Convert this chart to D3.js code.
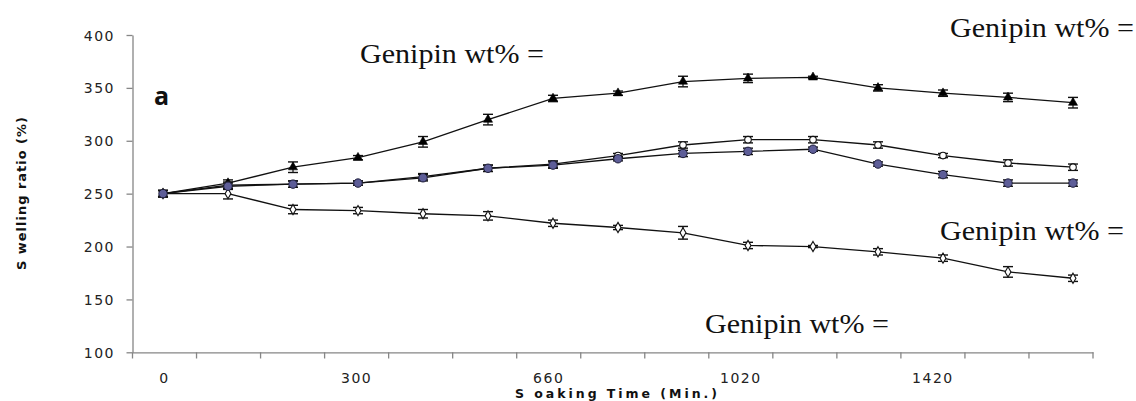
<!DOCTYPE html>
<html>
<head>
<meta charset="utf-8">
<script src="https://cdn.jsdelivr.net/npm/d3@7"></script>
<style>
  html, body { margin: 0; padding: 0; background: #fff; }
  svg { display: block; }
</style>
</head>
<body>
<svg id="chart" width="1136" height="401"></svg>
<script>
// Soaking time categories (min.) – only every third is labelled on the axis
const times = [0, 100, 200, 300, 420, 540, 660, 780, 900, 1020, 1140, 1260, 1420, 1540, 1660];
const tickLabels = ["0", "", "", "300", "", "", "660", "", "", "1020", "", "", "1420", "", ""];
const yTicks = [100, 150, 200, 250, 300, 350, 400];

// Swelling ratio (%) for each series
const triangleVals = [250, 260, 275, 284, 299, 320, 340, 345, 356, 359, 360, 350, 345, 341, 336];
const triangleErr  = [3, 3, 5, 2, 5, 5, 3, 2, 5, 4, 1, 3, 3, 4, 5];
const openCircleVals = [250, 258, 259, 260, 266, 274, 278, 286, 296, 301, 301, 296, 286, 279, 275];
const openCircleErr  = [3, 3, 3, 2, 3, 3, 3, 2, 3, 3, 3, 3, 2, 3, 3];
const filledCircleVals = [250, 257, 259, 260, 265, 274, 277, 283, 288, 290, 292, 278, 268, 260, 260];
const filledCircleErr  = [3, 3, 3, 2, 3, 3, 3, 2, 3, 3, 2, 2, 3, 3, 3];
const lowerVals = [250, 250, 235, 234, 231, 229, 222, 218, 213, 201, 200, 195, 189, 176, 170];
const lowerErr  = [3, 5, 4, 3, 4, 4, 3, 2, 6, 3, 1, 3, 3, 5, 3];

const legendTexts = ["Genipin wt% =", "Genipin wt% =", "Genipin wt% =", "Genipin wt% ="];

const svg = d3.select("#chart");

const y = d3.scaleLinear().domain([100, 400]).range([352.3, 35]);
const xBand = d3.scaleBand().domain(times).range([132.5, 1093]);
const xPt = d3.scalePoint().domain(times).range([163, 1073]);

const axisColor = "#868686";

// Y axis
const yAxis = svg.append("g").attr("transform", "translate(132.5,0)")
  .call(d3.axisLeft(y).tickValues(yTicks).tickSize(6).tickPadding(11.5).tickSizeOuter(0));
yAxis.select(".domain").attr("stroke", axisColor).attr("stroke-width", 1.3);
yAxis.selectAll(".tick line").attr("stroke", axisColor).attr("stroke-width", 1.3);
yAxis.selectAll(".tick text")
  .attr("fill", "#222").attr("font-family", "DejaVu Sans").attr("font-size", 14)
  .attr("letter-spacing", "1.5px").attr("dy", "0.36em");

// X axis
const xAxis = svg.append("g").attr("transform", "translate(0,352.3)")
  .call(d3.axisBottom(xBand).tickSize(0).tickPadding(20.5).tickFormat((d, i) => tickLabels[i]));
xAxis.select(".domain").attr("stroke", axisColor).attr("stroke-width", 1.3);
xAxis.selectAll(".tick text")
  .attr("fill", "#222").attr("font-family", "DejaVu Sans").attr("font-size", 14)
  .attr("letter-spacing", "1.5px");
// category boundary tick marks
const bounds = times.map(t => xBand(t)).concat([xBand(times[times.length - 1]) + xBand.bandwidth()]);
svg.append("g").selectAll("line").data(bounds).join("line")
  .attr("x1", d => d).attr("x2", d => d)
  .attr("y1", 352.3).attr("y2", 358.5)
  .attr("stroke", axisColor).attr("stroke-width", 1.3);

// Axis titles
svg.append("text")
  .attr("x", 515).attr("y", 397.5)
  .attr("font-family", "DejaVu Sans").attr("font-weight", "bold").attr("font-size", 12.5)
  .attr("fill", "#111")
  .attr("textLength", 202).attr("lengthAdjust", "spacing")
  .text("S oaking Time (Min.)");

svg.append("text")
  .attr("transform", "translate(26,270) rotate(-90)")
  .attr("font-family", "DejaVu Sans").attr("font-weight", "bold").attr("font-size", 13)
  .attr("fill", "#111")
  .attr("textLength", 153).attr("lengthAdjust", "spacing")
  .text("S welling ratio (%)");

// Panel label
svg.append("text")
  .attr("x", 154).attr("y", 105)
  .attr("font-family", "Open Sans").attr("font-weight", "bold").attr("font-size", 25)
  .attr("fill", "#111")
  .text("a");

// Series
const line = d3.line().x((d, i) => xPt(times[i])).y(d => y(d));

function drawSeries(vals, errs, marker) {
  const g = svg.append("g");
  g.append("path").datum(vals).attr("d", line)
    .attr("fill", "none").attr("stroke", "#111").attr("stroke-width", 1.3);
  const eb = g.append("g").selectAll("g").data(vals).join("g")
    .attr("transform", (d, i) => `translate(${xPt(times[i])},0)`);
  eb.append("line").attr("x1", 0).attr("x2", 0)
    .attr("y1", (d, i) => y(d - errs[i])).attr("y2", (d, i) => y(d + errs[i]))
    .attr("stroke", "#111").attr("stroke-width", 1.2);
  eb.append("line").attr("x1", -5).attr("x2", 5)
    .attr("y1", (d, i) => y(d - errs[i])).attr("y2", (d, i) => y(d - errs[i]))
    .attr("stroke", "#111").attr("stroke-width", 1.4);
  eb.append("line").attr("x1", -5).attr("x2", 5)
    .attr("y1", (d, i) => y(d + errs[i])).attr("y2", (d, i) => y(d + errs[i]))
    .attr("stroke", "#111").attr("stroke-width", 1.4);
  const m = g.append("g").selectAll("path").data(vals).join("path")
    .attr("transform", (d, i) => `translate(${xPt(times[i])},${y(d)})`);
  if (marker === "triangle") {
    m.attr("d", d3.symbol(d3.symbolTriangle, 36)).attr("fill", "#000").attr("stroke", "#000").attr("stroke-width", 0.6);
  } else if (marker === "open") {
    m.attr("d", d3.symbol(d3.symbolCircle, 34)).attr("fill", "#fff").attr("stroke", "#111").attr("stroke-width", 1.1);
  } else if (marker === "filled") {
    m.attr("d", d3.symbol(d3.symbolCircle, 56)).attr("fill", "#5e5e98").attr("stroke", "#1e1e3a").attr("stroke-width", 1);
  } else {
    m.attr("d", d3.symbol(d3.symbolDiamond, 30)).attr("fill", "#fff").attr("stroke", "#111").attr("stroke-width", 1.1);
  }
}

drawSeries(lowerVals, lowerErr, "diamond");
drawSeries(triangleVals, triangleErr, "triangle");
drawSeries(openCircleVals, openCircleErr, "open");
drawSeries(filledCircleVals, filledCircleErr, "filled");

// Legend texts
const legendPos = [[360, 63], [950, 37], [940, 240], [705, 333]];
svg.append("g").selectAll("text").data(legendTexts).join("text")
  .attr("x", (d, i) => legendPos[i][0]).attr("y", (d, i) => legendPos[i][1])
  .attr("font-family", "Liberation Serif").attr("font-size", 27)
  .attr("fill", "#111")
  .attr("textLength", 184).attr("lengthAdjust", "spacingAndGlyphs")
  .text(d => d);
</script>
</body>
</html>
